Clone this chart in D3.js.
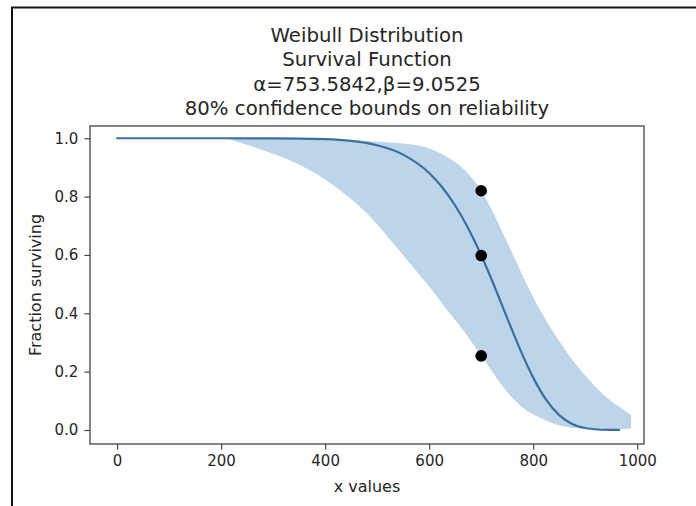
<!DOCTYPE html>
<html>
<head>
<meta charset="utf-8">
<script src="https://cdn.jsdelivr.net/npm/d3@7"></script>
<style>
  html, body { margin: 0; padding: 0; background: #fff; }
  svg { display: block; }
</style>
</head>
<body>
<div id="chart"></div>
<script>
// fitted survival curve
const curveX = [0, 100, 200, 300, 400, 450, 500, 550, 600, 625, 650, 675, 700, 725, 750, 775, 800, 825, 850, 875, 900, 925, 950, 965]
const curveY = [1, 1, 1, 0.9998, 0.9968, 0.9907, 0.9759, 0.9438, 0.8807, 0.8321, 0.7694, 0.6914, 0.5988, 0.4943, 0.3837, 0.2756, 0.1795, 0.1034, 0.0511, 0.0209, 0.0068, 0.0017, 0.0003, 0.0001]

// 80% confidence band
const bandX = [210, 290, 350, 415, 480, 545, 580, 610, 635, 660, 700, 750, 780, 815, 845, 880, 910, 940, 975, 988]
const bandUpper = [1, 1, 0.998, 0.995, 0.991, 0.983, 0.975, 0.958, 0.935, 0.905, 0.82, 0.643, 0.528, 0.405, 0.318, 0.23, 0.167, 0.113, 0.068, 0.052]
const bandLower = [1, 0.953, 0.91, 0.84, 0.743, 0.61, 0.535, 0.47, 0.41, 0.355, 0.255, 0.13, 0.076, 0.04, 0.018, 0.007, 0.003, 0.002, 0.003, 0.005]

// failure points
const pointX = [700, 700, 700]
const pointY = [0.82, 0.598, 0.254]

const xTicks = [0, 200, 400, 600, 800, 1000]
const yTicks = [0, 0.2, 0.4, 0.6, 0.8, 1.0]

const titleLines = [
  "Weibull Distribution",
  "Survival Function",
  "α=753.5842,β=9.0525",
  "80% confidence bounds on reliability"
]

const width = 696
const height = 506
const plot = { left: 90, right: 644, top: 126, bottom: 444 }
const font = "'DejaVu Sans', sans-serif"
const textColor = "#262626"
const spineColor = "#444"

const svg = d3.select("#chart")
  .append("svg")
  .attr("width", width)
  .attr("height", height)
  .attr("viewBox", [0, 0, width, height])

const x = d3.scaleLinear()
  .domain([-52, 1013])
  .range([plot.left, plot.right])

const y = d3.scaleLinear()
  .domain([-0.048, 1.042])
  .range([plot.bottom, plot.top])

// outer frame (only the top and left edges show)
svg.append("path")
  .attr("d", `M12,${height} V7.5 H${width}`)
  .attr("fill", "none")
  .attr("stroke", "#111")
  .attr("stroke-width", 2)

// band
const band = bandX.map((d, i) => ({ x: d, lo: bandLower[i], hi: bandUpper[i] }))
svg.append("path")
  .datum(band)
  .attr("fill", "#bcd5e9")
  .attr("d", d3.area()
    .x(d => x(d.x))
    .y0(d => y(d.lo))
    .y1(d => y(d.hi))
    .curve(d3.curveMonotoneX))

// survival curve
const line = curveX.map((d, i) => ({ x: d, y: curveY[i] }))
svg.append("path")
  .datum(line)
  .attr("fill", "none")
  .attr("stroke", "#3a6fa0")
  .attr("stroke-width", 2.2)
  .attr("stroke-linecap", "round")
  .attr("d", d3.line()
    .x(d => x(d.x))
    .y(d => y(d.y))
    .curve(d3.curveMonotoneX))

// points
svg.append("g")
  .selectAll("circle")
  .data(pointX.map((d, i) => ({ x: d, y: pointY[i] })))
  .join("circle")
  .attr("cx", d => x(d.x))
  .attr("cy", d => y(d.y))
  .attr("r", 5.8)
  .attr("fill", "#000")

// spines
svg.append("rect")
  .attr("x", plot.left)
  .attr("y", plot.top)
  .attr("width", plot.right - plot.left)
  .attr("height", plot.bottom - plot.top)
  .attr("fill", "none")
  .attr("stroke", spineColor)
  .attr("stroke-width", 1.3)

// axes
const xAxis = svg.append("g")
  .attr("transform", `translate(0,${plot.bottom})`)
  .call(d3.axisBottom(x).tickValues(xTicks).tickSize(5.6).tickPadding(6).tickFormat(d3.format("d")))

const yAxis = svg.append("g")
  .attr("transform", `translate(${plot.left},0)`)
  .call(d3.axisLeft(y).tickValues(yTicks).tickSize(5.6).tickPadding(6).tickFormat(d3.format(".1f")))

for (const axis of [xAxis, yAxis]) {
  axis.select(".domain").remove()
  axis.selectAll(".tick line").attr("stroke", spineColor).attr("stroke-width", 1.2)
  axis.selectAll(".tick text")
    .style("font-family", font)
    .style("font-size", "15px")
    .attr("fill", textColor)
}

// axis labels
svg.append("text")
  .attr("x", (plot.left + plot.right) / 2)
  .attr("y", 492)
  .attr("text-anchor", "middle")
  .style("font-family", font)
  .style("font-size", "16px")
  .attr("fill", textColor)
  .text("x values")

svg.append("text")
  .attr("transform", `translate(41,${(plot.top + plot.bottom) / 2}) rotate(-90)`)
  .attr("text-anchor", "middle")
  .style("font-family", font)
  .style("font-size", "16px")
  .attr("fill", textColor)
  .text("Fraction surviving")

// title
svg.append("g")
  .selectAll("text")
  .data(titleLines)
  .join("text")
  .attr("x", (plot.left + plot.right) / 2)
  .attr("y", (d, i) => 42 + i * 24.4)
  .attr("text-anchor", "middle")
  .style("font-family", font)
  .style("font-size", "19.7px")
  .attr("fill", textColor)
  .text(d => d)
</script>
</body>
</html>
